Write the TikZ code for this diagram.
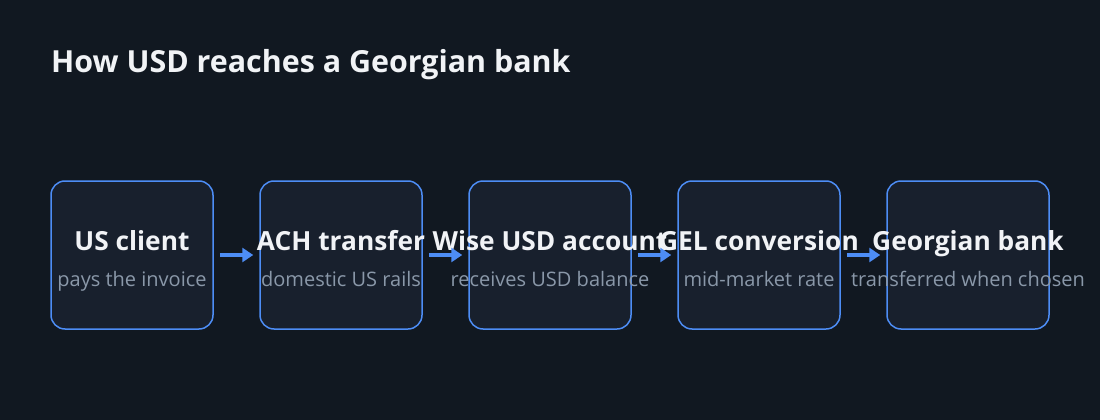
\documentclass[tikz,border=0pt]{standalone}
\usepackage{fontspec}
\setmainfont{Open Sans}
\usetikzlibrary{arrows.meta}
\definecolor{bg}{HTML}{111821}
\definecolor{boxfill}{HTML}{18202D}
\definecolor{boxline}{HTML}{4D8DF5}
\definecolor{titlec}{HTML}{F1F3F6}
\definecolor{subc}{HTML}{8A98A9}
\tikzset{
  stage/.style={draw=boxline, line width=1.5pt, fill=boxfill, rounded corners=14pt,
    minimum width=162pt, minimum height=148pt, inner sep=0pt},
  stitle/.style={anchor=base, text=titlec, font=\fontsize{26.3}{30}\selectfont\bfseries, inner sep=0pt},
  ssub/.style={anchor=base, text=subc, font=\fontsize{20}{24}\selectfont, inner sep=0pt},
  flow/.style={draw=boxline, line width=3.5pt, -{Triangle[length=11pt,width=14pt]},
    shorten <=6pt, shorten >=6pt},
}
\begin{document}
\begin{tikzpicture}[x=1pt,y=-1pt]
\fill[bg] (0,0) rectangle (1100,420);
\useasboundingbox (0,0) rectangle (1100,420);
\node[anchor=base west, text=titlec, font=\fontsize{30.4}{34}\selectfont\bfseries, inner sep=0pt] (title) at (51,73) {How USD reaches a Georgian bank};
\foreach \i/\x/\t/\s in {1/132/US client/pays the invoice,
                          2/341/ACH transfer/domestic US rails,
                          3/550/Wise USD account/receives USD balance,
                          4/759/GEL conversion/mid-market rate,
                          5/968/Georgian bank/transferred when chosen}{
  \node[stage] (b\i) at (\x,255) {};
  \node[stitle] (t\i) at (\x,250) {\t};
  \node[ssub] (s\i) at (\x,286) {\s};
}
\foreach \a/\b in {1/2,2/3,3/4,4/5}{
  \draw[flow] (b\a.east) -- (b\b.west);
}
\end{tikzpicture}
\end{document}
